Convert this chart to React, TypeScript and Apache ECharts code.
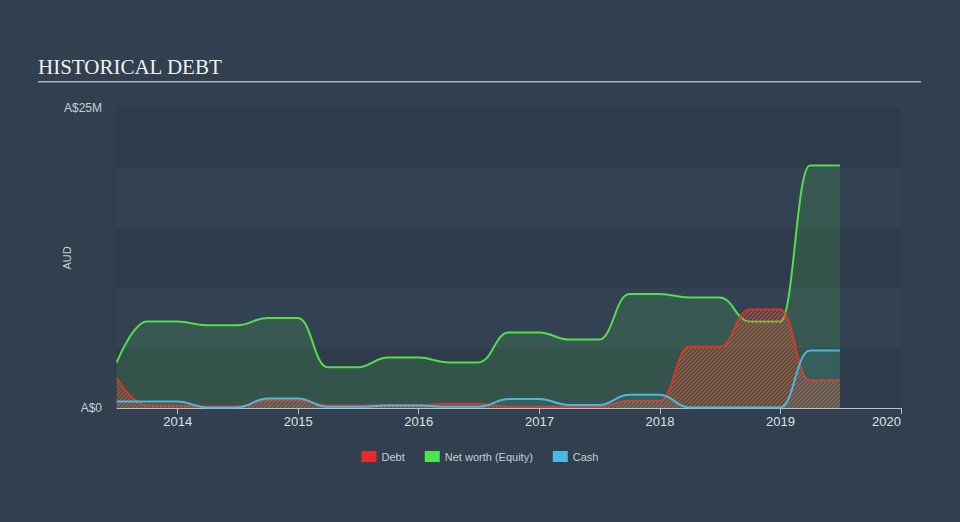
import React, { useEffect, useRef } from "react";
import * as echarts from "echarts";

const dates = [
  "2013-06-30", "2013-09-30", "2013-12-31", "2014-03-31", "2014-06-30",
  "2014-09-30", "2014-12-31", "2015-03-31", "2015-06-30", "2015-09-30",
  "2015-12-31", "2016-03-31", "2016-06-30", "2016-09-30", "2016-12-31",
  "2017-03-31", "2017-06-30", "2017-09-30", "2017-12-31", "2018-03-31",
  "2018-06-30", "2018-09-30", "2018-12-31", "2019-03-31", "2019-06-30",
];

// values in A$ millions
const netWorth = [
  3.8, 7.2, 7.2, 6.9, 6.9, 7.5, 7.5, 3.4, 3.4, 4.2, 4.2, 3.8, 3.8, 6.3, 6.3,
  5.7, 5.7, 9.5, 9.5, 9.2, 9.2, 7.2, 7.2, 20.2, 20.2,
];
const debt = [
  2.5, 0.2, 0.2, 0.12, 0.12, 0.65, 0.65, 0.2, 0.2, 0.25, 0.25, 0.35, 0.35, 0.1,
  0.1, 0.1, 0.1, 0.6, 0.6, 5.1, 5.1, 8.2, 8.2, 2.3, 2.3,
];
const cash = [
  0.55, 0.55, 0.55, 0.05, 0.05, 0.8, 0.8, 0.1, 0.1, 0.2, 0.2, 0.1, 0.1, 0.75,
  0.75, 0.25, 0.25, 1.1, 1.1, 0.05, 0.05, 0.05, 0.05, 4.8, 4.8,
];

const seriesNames = ["Debt", "Net worth (Equity)", "Cash"];
const yTickLabels: Record<number, string> = { 0: "A$0", 25: "A$25M" };

function pairs(values: number[]) {
  return dates.map((d, i) => [d, values[i]]);
}

function makeHatch(color: string) {
  const c = document.createElement("canvas");
  c.width = 4;
  c.height = 4;
  const ctx = c.getContext("2d")!;
  ctx.strokeStyle = color;
  ctx.lineWidth = 1.3;
  ctx.beginPath();
  ctx.moveTo(0, 4);
  ctx.lineTo(4, 0);
  ctx.moveTo(-1, 1);
  ctx.lineTo(1, -1);
  ctx.moveTo(3, 5);
  ctx.lineTo(5, 3);
  ctx.stroke();
  return c.toDataURL();
}

export default function App() {
  const ref = useRef<HTMLDivElement>(null);

  useEffect(() => {
    if (!ref.current) return;
    const chart = echarts.init(ref.current, null, { renderer: "svg" });
    const hatchRed = makeHatch("rgba(226,84,52,0.75)");

    chart.setOption({
      animation: false,
      backgroundColor: "#323f4f",
      graphic: [
        {
          type: "text",
          left: 38,
          top: 56,
          style: {
            text: "HISTORICAL DEBT",
            fill: "#eef0f2",
            font: "21px 'Liberation Serif', serif",
          },
        },
        {
          type: "rect",
          left: 38,
          top: 81,
          shape: { width: 883, height: 1.6 },
          style: { fill: "#aab2ba" },
        },
      ],
      legend: {
        data: seriesNames,
        left: "center",
        top: 446,
        icon: "rect",
        itemWidth: 15,
        itemHeight: 11,
        itemGap: 20,
        textStyle: { color: "#c8cdd2", fontSize: 11, fontFamily: "'Liberation Sans', sans-serif" },
      },
      grid: { left: 117, right: 59, top: 108, bottom: 114 },
      xAxis: {
        type: "time",
        min: "2013-07-01",
        max: "2020-01-01",
        minInterval: 365 * 24 * 3600 * 1000,
        maxInterval: 366 * 24 * 3600 * 1000,
        axisLine: { show: true, lineStyle: { color: "#b8c0c8", width: 1 } },
        axisTick: { show: true, length: 6, lineStyle: { color: "#b8c0c8" } },
        axisLabel: {
          formatter: "{yyyy}",
          color: "#dde0e4",
          fontSize: 13,
          margin: 7,
          showMaxLabel: true,
          alignMaxLabel: "right",
          fontFamily: "'Liberation Sans', sans-serif",
        },
        splitLine: { show: false },
      },
      yAxis: {
        type: "value",
        min: 0,
        max: 25,
        interval: 5,
        name: "AUD",
        nameLocation: "middle",
        nameGap: 45,
        nameMoveOverlap: false,
        nameTextStyle: { color: "#c8cdd2", fontSize: 11, fontFamily: "'Liberation Sans', sans-serif" },
        axisLine: { show: false },
        axisTick: { show: false },
        axisLabel: {
          formatter: (v: number) => yTickLabels[v] ?? "",
          color: "#c8cdd2",
          fontSize: 12,
          margin: 15,
          fontFamily: "'Liberation Sans', sans-serif",
        },
        splitLine: { show: false },
        splitArea: {
          show: true,
          areaStyle: { color: ["#2e3b4b", "#334252"] },
        },
      },
      series: [
        {
          name: "Net worth (Equity)",
          type: "line",
          data: pairs(netWorth),
          smooth: 0.45,
          smoothMonotone: "x",
          showSymbol: false,
          symbol: "none",
          itemStyle: { color: "#4ee24e" },
          lineStyle: { color: "#55dd4c", width: 2 },
          areaStyle: { color: "rgba(78,200,80,0.25)" },
          z: 2,
        },
        {
          name: "Debt",
          type: "line",
          data: pairs(debt),
          smooth: 0.45,
          smoothMonotone: "x",
          showSymbol: false,
          symbol: "none",
          itemStyle: { color: "#e52b2b" },
          lineStyle: { color: "rgba(232,52,40,0.85)", width: 2 },
          areaStyle: { color: { image: hatchRed, repeat: "repeat" } as any, opacity: 1 },
          z: 3,
        },
        {
          name: "Cash",
          type: "line",
          data: pairs(cash),
          smooth: 0.45,
          smoothMonotone: "x",
          showSymbol: false,
          symbol: "none",
          itemStyle: { color: "#4cb8dc" },
          lineStyle: { color: "#4cb8dc", width: 2 },
          areaStyle: { color: "rgba(76,184,220,0.16)" },
          z: 4,
        },
      ],
    });
    return () => chart.dispose();
  }, []);

  return (
    <div
      ref={ref}
      style={{ position: "fixed", left: 0, top: 0, width: 960, height: 522 }}
    />
  );
}
